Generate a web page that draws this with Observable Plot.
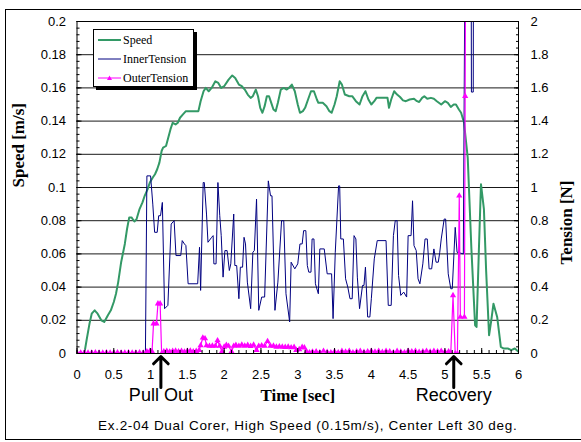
<!DOCTYPE html>
<html><head><meta charset="utf-8">
<script src="https://cdn.jsdelivr.net/npm/d3@7"></script>
<script src="https://cdn.jsdelivr.net/npm/@observablehq/plot@0.6"></script>
<style>
body{margin:0;background:#fff;overflow:hidden;}
#wrap{position:relative;width:581px;height:442px;overflow:hidden;}
#wrap svg{position:absolute;left:0;top:0;}
#border{position:absolute;left:5px;top:9px;width:640px;height:431px;border:1px solid #000;box-sizing:border-box;pointer-events:none;}
#legend{position:absolute;left:93px;top:29px;width:101px;height:58px;border:1px solid #000;background:#fff;box-shadow:3px 3px 0 #000;box-sizing:border-box;font-family:"Liberation Serif","Times New Roman",serif;font-size:12px;color:#000;}
#legend .row{position:absolute;left:4px;height:16px;display:flex;align-items:center;white-space:nowrap;}
#legend svg{position:static;margin-right:1px;}
</style></head>
<body><div id="wrap"><div id="border"></div></div>
<script>
// ---- data ----
const seriesNames = ["Speed", "InnerTension", "OuterTension"];
const seriesColors = ["#339966", "#000080", "#ff00ff"];

// Speed [m/s] : [time s, speed]
const speed = [
 [0,0],[0.1,0],[0.13,0.008],[0.17,0.018],[0.2,0.024],[0.24,0.026],[0.28,0.024],[0.33,0.02],[0.37,0.019],
 [0.42,0.023],[0.46,0.026],[0.5,0.031],[0.53,0.036],[0.56,0.043],[0.6,0.055],[0.65,0.066],[0.68,0.075],
 [0.71,0.082],[0.74,0.082],[0.78,0.0795],[0.81,0.081],[0.85,0.087],[0.89,0.091],[0.92,0.095],[0.96,0.099],
 [0.99,0.103],[1.03,0.106],[1.06,0.108],[1.09,0.111],[1.12,0.115],[1.15,0.122],[1.17,0.124],[1.21,0.125],
 [1.24,0.13],[1.27,0.135],[1.3,0.139],[1.34,0.138],[1.37,0.139],[1.4,0.142],[1.44,0.144],[1.48,0.146],
 [1.65,0.146],[1.68,0.152],[1.72,0.158],[1.75,0.16],[1.79,0.158],[1.83,0.16],[1.88,0.164],[1.92,0.163],
 [1.96,0.16],[2.0,0.161],[2.06,0.165],[2.11,0.1675],[2.15,0.166],[2.2,0.162],[2.24,0.161],[2.28,0.159],
 [2.32,0.156],[2.36,0.154],[2.39,0.155],[2.43,0.159],[2.46,0.155],[2.49,0.148],[2.52,0.145],[2.55,0.149],
 [2.58,0.155],[2.61,0.155],[2.64,0.151],[2.67,0.147],[2.7,0.146],[2.73,0.151],[2.77,0.159],[2.81,0.16],
 [2.85,0.159],[2.88,0.16],[2.92,0.162],[2.96,0.158],[3.0,0.15],[3.03,0.145],[3.07,0.146],[3.1,0.148],
 [3.14,0.153],[3.18,0.158],[3.22,0.158],[3.26,0.153],[3.28,0.151],[3.34,0.151],[3.39,0.149],[3.43,0.146],
 [3.46,0.145],[3.5,0.15],[3.53,0.155],[3.57,0.164],[3.6,0.162],[3.64,0.156],[3.7,0.155],[3.74,0.155],
 [3.79,0.152],[3.84,0.15],[3.88,0.155],[3.92,0.158],[3.96,0.153],[4.0,0.15],[4.04,0.152],[4.07,0.154],
 [4.22,0.154],[4.24,0.148],[4.27,0.153],[4.31,0.158],[4.35,0.156],[4.39,0.1545],[4.43,0.1525],[4.47,0.152],
 [4.52,0.153],[4.58,0.1535],[4.62,0.152],[4.65,0.1515],[4.69,0.154],[4.72,0.155],[4.76,0.1535],[4.81,0.154],
 [4.85,0.1535],[4.89,0.152],[4.95,0.15],[5.0,0.152],[5.04,0.151],[5.08,0.1485],[5.12,0.15],[5.15,0.15],
 [5.19,0.147],[5.22,0.145],[5.26,0.139],[5.31,0.118],[5.36,0.063],[5.41,0.017],[5.43,0.016],[5.46,0.06],
 [5.49,0.102],[5.53,0.087],[5.56,0.05],[5.6,0.011],[5.63,0.02],[5.66,0.03],[5.71,0.022],[5.76,0.004],
 [5.8,0.003],[5.86,0.003],[5.9,0.002],[5.95,0.003],[6.0,0.001]
];

// InnerTension [N] : [time s, tension]  (values above 2 leave the chart)
const innerTension = [
 [0,0],[0.93,0],[0.95,1.07],[1.0,1.07],[1.03,0.9],[1.055,0.73],[1.09,0.73],[1.11,0.83],[1.135,0.83],[1.16,0.91],
 [1.19,0.27],[1.235,0.29],[1.28,0.78],[1.32,0.8],[1.345,0.59],[1.41,0.59],[1.43,0.68],[1.46,0.66],[1.48,0.65],
 [1.51,0.42],[1.64,0.42],[1.665,0.64],[1.68,0.38],[1.715,1.03],[1.73,1.03],[1.76,0.84],[1.78,0.67],[1.83,0.7],
 [1.85,0.71],[1.86,0.54],[1.89,0.54],[1.915,1.03],[1.94,0.83],[1.96,0.71],[1.985,0.46],[2.01,0.62],[2.04,0.62],
 [2.07,0.5],[2.09,0.54],[2.13,0.84],[2.145,0.53],[2.17,0.53],[2.2,0.33],[2.22,0.52],[2.25,0.52],[2.27,0.7],
 [2.29,0.66],[2.315,0.43],[2.36,0.27],[2.39,0.61],[2.41,0.62],[2.44,0.93],[2.47,0.26],[2.51,0.34],[2.55,0.34],
 [2.6,1.04],[2.63,0.95],[2.65,0.95],[2.69,0.26],[2.73,0.43],[2.78,0.8],[2.81,0.8],[2.84,0.36],[2.89,0.19],
 [2.91,0.55],[2.96,0.51],[3.0,0.54],[3.03,0.66],[3.06,0.66],[3.08,0.74],[3.11,0.74],[3.13,0.53],[3.15,0.49],
 [3.18,0.49],[3.195,0.69],[3.22,0.69],[3.24,0.42],[3.28,0.36],[3.3,0.63],[3.36,0.63],[3.4,0.48],[3.46,0.48],
 [3.48,0.21],[3.51,0.61],[3.555,1.01],[3.57,1.01],[3.585,0.69],[3.62,0.69],[3.65,0.45],[3.68,0.4],[3.71,0.33],
 [3.74,0.33],[3.765,0.71],[3.79,0.69],[3.81,0.46],[3.84,0.27],[3.88,0.41],[3.9,0.41],[3.92,0.52],[3.95,0.22],
 [3.98,0.22],[4.0,0.33],[4.04,0.57],[4.08,0.68],[4.2,0.68],[4.23,0.29],[4.27,0.29],[4.3,0.71],[4.325,0.8],
 [4.35,0.8],[4.37,0.47],[4.4,0.35],[4.44,0.37],[4.48,0.34],[4.5,0.71],[4.54,0.71],[4.56,0.92],[4.58,0.65],
 [4.61,0.62],[4.635,0.45],[4.66,0.42],[4.7,0.54],[4.73,0.69],[4.76,0.69],[4.785,0.51],[4.82,0.51],[4.85,0.63],
 [4.88,0.55],[4.91,0.55],[4.93,0.61],[4.95,0.69],[4.99,0.81],[5.01,0.81],[5.045,0.48],[5.08,0.39],[5.1,0.39],
 [5.14,0.76],[5.165,0.61],[5.25,0.6],[5.28,3.0],[5.355,3.0],[5.36,1.575],[5.385,1.575],[5.39,3.0],[6.0,3.0]
];

// OuterTension [N] : [time s, tension]
const outerTension = [
 [0,0.004],[0.05,0.004],[0.1,0.005],[0.15,0.004],[0.2,0.004],[0.25,0.005],[0.3,0.004],[0.35,0.004],[0.4,0.005],
 [0.45,0.004],[0.5,0.004],[0.55,0.005],[0.6,0.004],[0.65,0.004],[0.7,0.005],[0.75,0.004],[0.8,0.004],[0.85,0.005],
 [0.9,0.004],[0.95,0.012],[0.99,0.014],[1.02,0.012],[1.04,0.18],[1.08,0.18],[1.1,0.3],[1.13,0.3],[1.15,0.0],
 [1.18,0.012],[1.22,0.015],[1.26,0.01],[1.3,0.014],[1.34,0.016],[1.38,0.012],[1.42,0.015],[1.46,0.01],[1.5,0.015],
 [1.54,0.016],[1.58,0.012],[1.62,0.014],[1.66,0.02],[1.68,0.048],[1.71,0.095],[1.74,0.09],[1.76,0.048],[1.8,0.045],
 [1.84,0.046],[1.88,0.045],[1.91,0.078],[1.94,0.045],[1.97,0.012],[2.0,0.04],[2.03,0.05],[2.06,0.045],[2.1,0.012],
 [2.13,0.045],[2.16,0.05],[2.2,0.045],[2.24,0.052],[2.28,0.046],[2.32,0.05],[2.36,0.044],[2.4,0.052],[2.44,0.02],
 [2.47,0.045],[2.51,0.048],[2.55,0.045],[2.59,0.074],[2.63,0.045],[2.67,0.046],[2.71,0.04],[2.75,0.042],[2.79,0.04],
 [2.83,0.038],[2.87,0.04],[2.91,0.036],[2.95,0.038],[2.98,0.02],[3.02,0.025],[3.06,0.038],[3.09,0.035],[3.12,0.012],
 [3.16,0.006],[3.2,0.01],[3.25,0.012],[3.3,0.006],[3.35,0.015],[3.4,0.008],[3.45,0.005],[3.5,0.012],[3.55,0.006],
 [3.6,0.014],[3.65,0.01],[3.7,0.015],[3.75,0.006],[3.8,0.012],[3.85,0.014],[3.9,0.008],[3.95,0.012],[4.0,0.015],
 [4.05,0.01],[4.1,0.014],[4.15,0.008],[4.2,0.015],[4.25,0.012],[4.3,0.006],[4.35,0.014],[4.4,0.01],[4.45,0.006],
 [4.5,0.015],[4.55,0.012],[4.6,0.014],[4.65,0.008],[4.7,0.012],[4.75,0.015],[4.8,0.01],[4.85,0.014],[4.9,0.012],
 [4.95,0.015],[5.0,0.01],[5.05,0.012],[5.08,0.004],[5.11,0.35],[5.14,0.0],[5.17,0.0],[5.195,0.95],[5.21,0.22],
 [5.265,0.22],[5.275,1.55],[5.285,3.0]
];

// axes
const timeTicks = [0,0.5,1,1.5,2,2.5,3,3.5,4,4.5,5,5.5,6];
const speedTicks = [0,0.02,0.04,0.06,0.08,0.1,0.12,0.14,0.16,0.18,0.2];
const tensionTicks = [0,0.2,0.4,0.6,0.8,1,1.2,1.4,1.6,1.8,2];
const tensionPerSpeed = 10; // right axis (N) = 10 x left axis (m/s)

const annotations = [{label: "Pull Out", time: 1.14}, {label: "Recovery", time: 5.12}];
const xTitle = "Time [sec]";
const yTitleLeft = "Speed [m/s]";
const yTitleRight = "Tension [N]";
const caption = "Ex.2-04 Dual Corer, High Speed (0.15m/s), Center Left 30 deg.";

// ---- chart ----
const minorY = d3.range(0, 0.2001, 0.004);
const minorX = d3.range(0, 6.001, 0.1);
const tens = d => d[1] / tensionPerSpeed;
const sans = "'Liberation Sans', Arial, sans-serif";
const serif = "'Liberation Serif', 'Times New Roman', serif";

const chart = Plot.plot({
  width: 581, height: 442,
  marginLeft: 76.5, marginRight: 63, marginTop: 21, marginBottom: 89,
  style: {fontFamily: sans, fontSize: "13px", color: "#000", background: "transparent", overflow: "visible"},
  x: {domain: [0, 6]},
  y: {domain: [0, 0.2]},
  marks: [
    Plot.ruleY(speedTicks.slice(1, -1), {stroke: "#000", strokeOpacity: 0.9}),
    Plot.line(speed, {x: d => d[0], y: d => d[1], stroke: seriesColors[0], strokeWidth: 2, clip: true}),
    Plot.line(innerTension, {x: d => d[0], y: tens, stroke: seriesColors[1], strokeWidth: 1, clip: true}),
    Plot.line(outerTension, {x: d => d[0], y: tens, stroke: seriesColors[2], strokeWidth: 1.2, clip: true}),
    Plot.dot(outerTension, {x: d => d[0], y: tens, symbol: "triangle", r: 2.3, fill: seriesColors[2], stroke: "none", clip: true}),
    Plot.frame({stroke: "#000"}),
    // inward ticks
    Plot.axisY(minorY, {anchor: "left", tickSize: 3, dx: 3, fill: "none", label: null}),
    Plot.axisY(speedTicks, {anchor: "left", tickSize: 5, dx: 5, fill: "none", label: null}),
    Plot.axisY(minorY, {anchor: "right", tickSize: 3, dx: -3, fill: "none", label: null}),
    Plot.axisY(speedTicks, {anchor: "right", tickSize: 5, dx: -5, fill: "none", label: null}),
    Plot.axisX(minorX, {anchor: "bottom", tickSize: 3, dy: -3, fill: "none", label: null}),
    Plot.axisX(timeTicks, {anchor: "bottom", tickSize: 5, dy: -5, fill: "none", label: null}),
    // labels
    Plot.axisY(speedTicks, {anchor: "left", tickSize: 0, tickPadding: 11, label: null, tickFormat: d => String(+d.toFixed(2))}),
    Plot.axisY(tensionTicks.map(v => v / tensionPerSpeed), {anchor: "right", tickSize: 0, tickPadding: 12, label: null,
      tickFormat: d => String(+(d * tensionPerSpeed).toFixed(1))}),
    Plot.axisX(timeTicks, {anchor: "bottom", tickSize: 0, tickPadding: 16, label: null, tickFormat: d => String(d)}),
    // titles
    Plot.text([yTitleLeft], {text: d => d, frameAnchor: "left", rotate: -90, dx: -58, fontFamily: serif, fontWeight: "bold", fontSize: 17}),
    Plot.text([yTitleRight], {text: d => d, frameAnchor: "right", rotate: -90, dx: 48, dy: -7, fontFamily: serif, fontWeight: "bold", fontSize: 17}),
    Plot.text([xTitle], {text: d => d, frameAnchor: "bottom", dy: 47, fontFamily: serif, fontWeight: "bold", fontSize: 17}),
    Plot.text(annotations, {x: "time", frameAnchor: "bottom", text: "label", dy: 47, fontSize: 18}),
    Plot.arrow(annotations, {x: "time", y1: -0.0205, y2: -0.0018, stroke: "#000", strokeWidth: 3, headLength: 10, headAngle: 90}),
    Plot.text([caption], {text: d => d, frameAnchor: "bottom", dy: 76, dx: 10, fontSize: 13.5})
  ]
});
d3.select(chart).selectAll("text").filter(function () { return this.textContent === caption; })
  .attr("letter-spacing", "0.7");
const wrap = document.getElementById("wrap");
wrap.insertBefore(chart, wrap.firstChild);

// legend
const legend = document.createElement("div");
legend.id = "legend";
seriesNames.forEach((name, i) => {
  const row = document.createElement("div");
  row.className = "row";
  row.style.top = (2 + i * 19) + "px";
  const marker = i === 2 ? `<path d="M11.5,5.5 L14,10 L9,10 Z" fill="${seriesColors[i]}"/>` : "";
  row.innerHTML = `<svg width="24" height="16"><line x1="0" y1="8" x2="23" y2="8" stroke="${seriesColors[i]}" stroke-width="${i === 0 ? 2 : 1}"/>${marker}</svg><span>${name}</span>`;
  legend.appendChild(row);
});
wrap.appendChild(legend);
</script>
</body></html>
